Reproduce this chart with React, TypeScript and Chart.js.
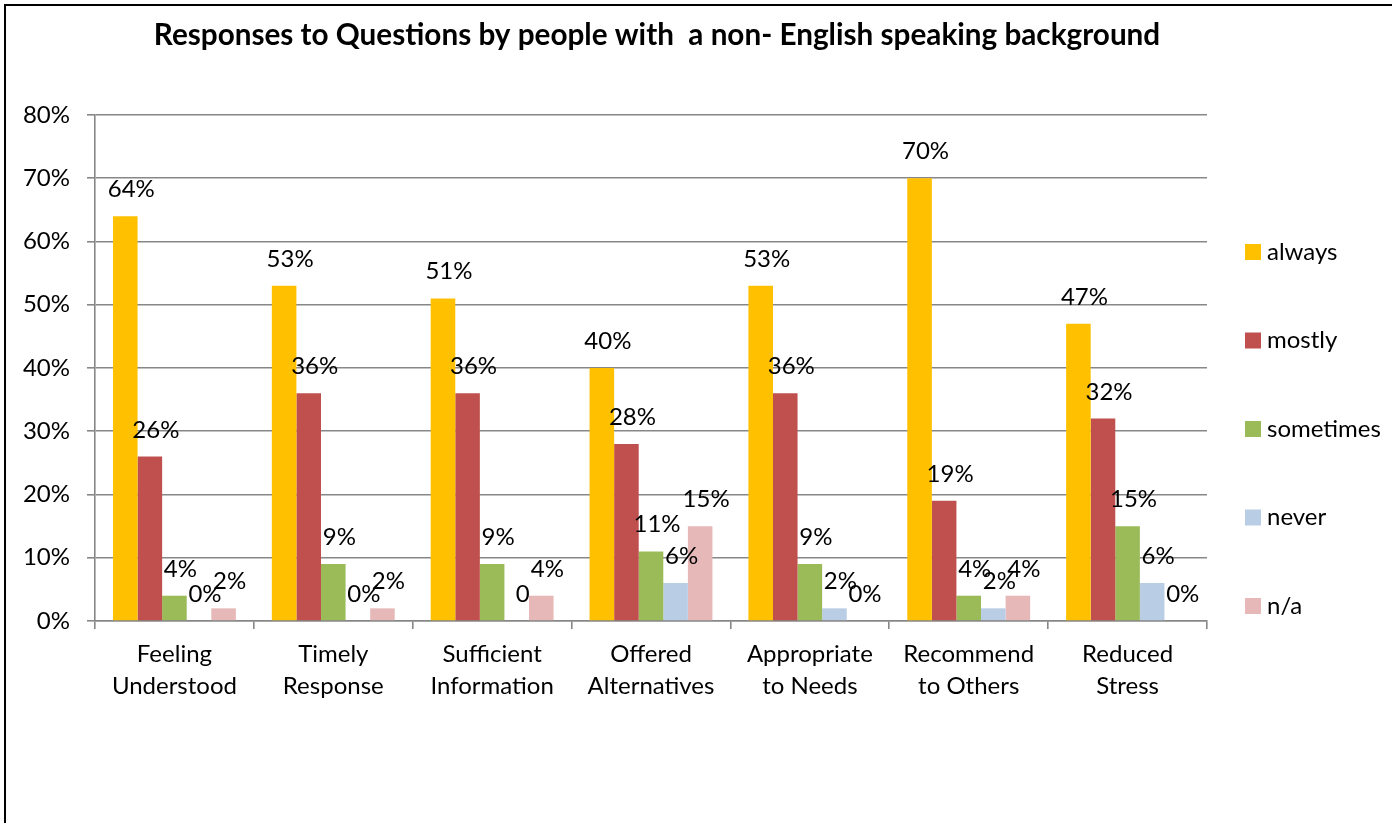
import React, { useEffect, useRef } from "react";
import { Chart, registerables } from "chart.js";

Chart.register(...registerables);

const TITLE = "Responses to Questions by people with  a non- English speaking background";

const categories: string[][] = [
  ["Feeling", "Understood"],
  ["Timely", "Response"],
  ["Sufficient", "Information"],
  ["Offered", "Alternatives"],
  ["Appropriate", "to Needs"],
  ["Recommend", "to Others"],
  ["Reduced", "Stress"],
];

const seriesNames = ["always", "mostly", "sometimes", "never", "n/a"];

const always = [64, 53, 51, 40, 53, 70, 47];
const mostly = [26, 36, 36, 28, 36, 19, 32];
const sometimes = [4, 9, 9, 11, 9, 4, 15];
const never = [0, 0, 0, 6, 2, 2, 6];
const notApplicable = [2, 2, 4, 15, 0, 4, 0];

// data label texts (the "never" series shows a bare "0" for Sufficient Information)
const neverText = ["0%", "0%", "0", "6%", "2%", "2%", "6%"];

const yTickLabels = ["0%", "10%", "20%", "30%", "40%", "50%", "60%", "70%", "80%"];

const colors = ["#FFC000", "#C0504D", "#9BBB59", "#B9CDE5", "#E6B9B8"];

const FONT = "Lato, 'Open Sans', sans-serif";
const GRID = "#878787";

const pct = (arr: number[]) => arr.map((v) => v + "%");

export default function App() {
  const ref = useRef<HTMLCanvasElement>(null);

  useEffect(() => {
    document.body.style.margin = "0";
    const canvas = ref.current;
    if (!canvas) return;

    const labelTexts = [pct(always), pct(mostly), pct(sometimes), neverText, pct(notApplicable)];

    const overlay = {
      id: "overlay",
      afterDatasetsDraw(chart: any) {
        const ctx = chart.ctx;
        ctx.save();
        ctx.fillStyle = "#000";
        ctx.font = `24px ${FONT}`;
        ctx.textAlign = "center";
        ctx.textBaseline = "alphabetic";
        chart.data.datasets.forEach((ds: any, di: number) => {
          const meta = chart.getDatasetMeta(di);
          meta.data.forEach((el: any, i: number) => {
            ctx.fillText(labelTexts[di][i], el.x + 6, el.y - 19);
          });
        });
        ctx.restore();
      },
      afterDraw(chart: any) {
        const ctx = chart.ctx;
        ctx.save();
        // title
        let size = 31;
        ctx.font = `bold ${size}px ${FONT}`;
        while (ctx.measureText(TITLE).width > 1010 && size > 10) {
          size -= 0.1;
          ctx.font = `bold ${size}px ${FONT}`;
        }
        ctx.fillStyle = "#000";
        ctx.textAlign = "center";
        ctx.textBaseline = "middle";
        ctx.fillText(TITLE, 657, 35);
        // legend
        ctx.font = `24px ${FONT}`;
        ctx.textAlign = "left";
        chart.data.datasets.forEach((ds: any, i: number) => {
          const cy = 252 + i * 88.5;
          ctx.fillStyle = ds.backgroundColor;
          ctx.fillRect(1245, cy - 8, 16, 16);
          ctx.fillStyle = "#000";
          ctx.fillText(ds.label, 1267, cy);
        });
        ctx.restore();
      },
    };

    const seriesData = [always, mostly, sometimes, never, notApplicable];

    const chart = new Chart(canvas, {
      type: "bar",
      data: {
        labels: categories,
        datasets: seriesNames.map((name, i) => ({
          label: name,
          data: seriesData[i],
          backgroundColor: colors[i],
          borderWidth: 0,
          categoryPercentage: 0.7736,
          barPercentage: 1.0,
        })),
      },
      options: {
        responsive: false,
        animation: false,
        layout: { padding: { top: 115, right: 185, left: 0, bottom: 0 } },
        plugins: {
          legend: { display: false },
          title: { display: false },
          tooltip: { enabled: false },
        },
        scales: {
          x: {
            afterFit: (axis: any) => {
              axis.height = 202;
            },
            grid: {
              offset: true,
              drawOnChartArea: false,
              drawTicks: true,
              tickLength: 8,
              color: GRID,
              lineWidth: 1.6,
            },
            border: { display: true, color: GRID, width: 1.6 },
            ticks: {
              color: "#000",
              font: { family: FONT, size: 24, lineHeight: 1.34 },
              padding: 9,
              maxRotation: 0,
              autoSkip: false,
            },
          },
          y: {
            min: 0,
            max: 80,
            afterFit: (axis: any) => {
              axis.width = 95;
            },
            grid: {
              drawTicks: true,
              tickLength: 8,
              color: GRID,
              lineWidth: 1.6,
            },
            border: { display: true, color: GRID, width: 1.6 },
            ticks: {
              stepSize: 10,
              color: "#000",
              font: { family: FONT, size: 24 },
              padding: 17,
              callback: (_v: any, idx: number) => yTickLabels[idx],
            },
          },
        },
      },
      plugins: [overlay],
    });

    return () => chart.destroy();
  }, []);

  return (
    <div
      style={{
        position: "fixed",
        left: 0,
        top: 0,
        width: 1392,
        height: 823,
        overflow: "hidden",
        background: "#fff",
      }}
    >
      <canvas ref={ref} width={1392} height={823} style={{ position: "absolute", left: 0, top: 0 }} />
      <div
        style={{
          position: "absolute",
          left: 4,
          top: 4,
          width: 2000,
          height: 2000,
          borderLeft: "2px solid #000",
          borderTop: "2px solid #000",
          pointerEvents: "none",
        }}
      />
    </div>
  );
}
